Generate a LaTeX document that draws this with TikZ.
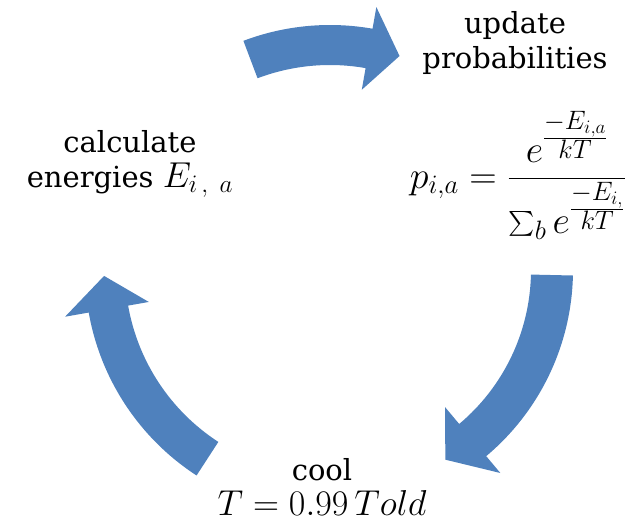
\RequirePackage{fix-cm}
\documentclass[tikz,border=0pt]{standalone}
\usepackage{amsmath}
\usepackage{fontspec}
\setmainfont{DejaVu Serif}
\definecolor{cycblue}{HTML}{4F81BD}
\newcommand{\mathsz}{\fontsize{36}{36}\selectfont}
\begin{document}
\begin{tikzpicture}[x=1pt, y=1pt,
  cyc/.style={fill=cycblue, draw=none},
  lbl/.style={align=center, inner sep=0pt, font=\fontsize{29}{35}\selectfont}]
\useasboundingbox (0,0) rectangle (635,523);
% arrows of the cycle
\begin{scope}[shift={(330,253)}]
\fill[cyc] (110.7:245) arc[start angle=110.7, end angle=80, radius=245]
  -- (80:267) -- (72:225) -- (80:183) -- (80:205)
  arc[start angle=80, end angle=110.7, radius=205] -- cycle;
\fill[cyc] (-1.3:243) arc[start angle=-1.3, end angle=-50, radius=243]
  -- (-50:265) -- (-58.7:222) -- (-50:179) -- (-50:201)
  arc[start angle=-50, end angle=-1.3, radius=201] -- cycle;
\fill[cyc] (237:245) arc[start angle=237, end angle=190, radius=245]
  -- (190:269) -- (181.5:226) -- (190:184) -- (190:205)
  arc[start angle=190, end angle=237, radius=205] -- cycle;
\end{scope}
% labels
\node[lbl] (upd) at (515,480) {update\\probabilities};
\node[lbl] (calc) at (130,359) {calculate\\energies {\mathsz$E_{i\,,\ a}$}};
\node[lbl, font=\fontsize{38}{40}\selectfont] (prob) at (518,348)
  {$p_{i,a}=\dfrac{e^{\frac{\scriptstyle -E_{i,a}}{\scriptstyle kT}}}
   {\sum_b e^{\frac{\scriptstyle -E_{i,}}{\scriptstyle kT}}}$};
\node[lbl] (cool) at (322,36) {cool\\{\mathsz$T=0.99\,Told$}};
\end{tikzpicture}
\end{document}
